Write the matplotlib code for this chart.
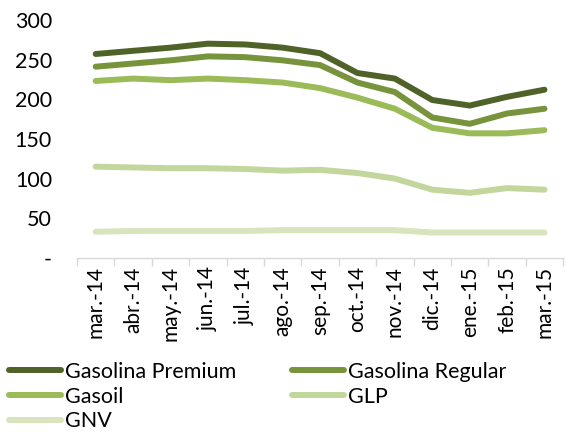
import matplotlib.pyplot as plt
from matplotlib.ticker import FixedLocator, FuncFormatter

plt.rcParams['font.family'] = ['Lato', 'DejaVu Sans']

meses = ["mar.-14", "abr.-14", "may.-14", "jun.-14", "jul.-14", "ago.-14", "sep.-14",
         "oct.-14", "nov.-14", "dic.-14", "ene.-15", "feb.-15", "mar.-15"]

premium = [257, 261, 265, 270, 269, 265, 258, 233, 226, 199, 192, 203, 212]
regular = [241, 245, 249, 254, 253, 249, 243, 221, 209, 177, 169, 182, 188]
gasoil = [223, 226, 224, 226, 224, 221, 214, 202, 188, 164, 157, 157, 161]
glp = [115, 114, 113, 113, 112, 110, 111, 107, 100, 86, 82, 88, 86]
gnv = [33, 34, 34, 34, 34, 35, 35, 35, 35, 32, 32, 32, 32]

series = [
    ("Gasolina Premium", premium, "#4F6228"),
    ("Gasolina Regular", regular, "#77933C"),
    ("Gasoil", gasoil, "#9BBB59"),
    ("GLP", glp, "#C3D69B"),
    ("GNV", gnv, "#D7E4BD"),
]

fig = plt.figure(figsize=(5.66, 4.32), dpi=100)
ax = fig.add_axes([0.136, 0.403, 0.859, 0.551])

x = list(range(len(meses)))
lines = {}
for nombre, vals, color in series:
    ln, = ax.plot(x, vals, color=color, lw=4.3, solid_capstyle='round',
                  solid_joinstyle='round', label=nombre)
    lines[nombre] = ln

ax.set_xlim(-0.5, len(meses) - 0.5)
ax.set_ylim(0, 300)
ax.set_yticks(range(0, 301, 50))
ax.yaxis.set_major_formatter(FuncFormatter(lambda v, p: "-" if v == 0 else f"{int(v)}"))
ax.set_xticks(x)
ax.set_xticklabels(meses, rotation=90)
ax.xaxis.set_minor_locator(FixedLocator([i - 0.5 for i in range(len(meses) + 1)]))
ax.tick_params(axis='x', which='major', length=0, pad=6, labelsize=15)
ax.tick_params(axis='x', which='minor', length=6, color='#D9D9D9', width=1)
ax.tick_params(axis='y', length=0, labelsize=15.5, pad=18)

for s in ['top', 'right', 'left']:
    ax.spines[s].set_visible(False)
ax.spines['bottom'].set_color('#D9D9D9')
ax.spines['bottom'].set_linewidth(1)

orden = ["Gasolina Premium", "Gasoil", "GNV", "Gasolina Regular", "GLP"]
fig.legend([lines[n] for n in orden], orden, ncol=2, loc='upper left',
           bbox_to_anchor=(0.016, 0.162), frameon=False, fontsize=15.5,
           handlelength=2.4, handletextpad=0.2, columnspacing=2.6,
           labelspacing=0.22, borderaxespad=0, borderpad=0)

fig.savefig("out.png", dpi=100)
